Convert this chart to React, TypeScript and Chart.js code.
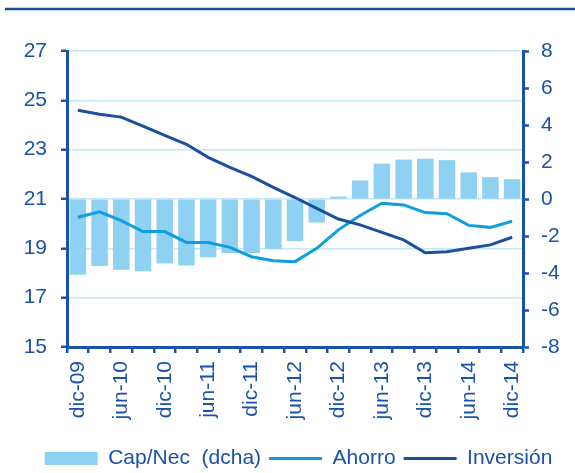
import React, { useEffect, useRef } from "react";
import { Chart, registerables } from "chart.js";

Chart.register(...registerables);

const categories = [
  "dic-09", "mar-10", "jun-10", "sep-10", "dic-10", "mar-11", "jun-11", "sep-11",
  "dic-11", "mar-12", "jun-12", "sep-12", "dic-12", "mar-13", "jun-13", "sep-13",
  "dic-13", "mar-14", "jun-14", "sep-14", "dic-14",
];

const capNec = [
  -4.1, -3.62, -3.82, -3.9, -3.48, -3.59, -3.15, -2.92, -2.92, -2.7, -2.27, -1.27,
  0.13, 1.0, 1.91, 2.13, 2.18, 2.1, 1.44, 1.18, 1.07,
];

const ahorro = [
  20.26, 20.48, 20.12, 19.68, 19.68, 19.24, 19.24, 19.04, 18.66, 18.5, 18.46, 19.0,
  19.75, 20.33, 20.83, 20.76, 20.45, 20.4, 19.93, 19.85, 20.1,
];

const inversion = [
  24.6, 24.44, 24.32, 23.95, 23.58, 23.22, 22.69, 22.28, 21.92, 21.47, 21.06, 20.62,
  20.19, 19.95, 19.65, 19.34, 18.82, 18.86, 19.0, 19.14, 19.45,
];

const leftTicks = [15, 17, 19, 21, 23, 25, 27];
const rightTicks = [-8, -6, -4, -2, 0, 2, 4, 6, 8];

const AXIS = "#1a52a8";
const TEXT = "#1a52a8";
const GRID = "#c4e7f6";
const BAR = "#8ed1f2";
const AHORRO = "#0f9ede";
const INVERSION = "#1c4f9e";
const FONT = "'Liberation Sans', Arial, sans-serif";

const topLine = {
  id: "topLine",
  beforeDraw(chart: any) {
    const ctx = chart.ctx;
    ctx.save();
    ctx.strokeStyle = "#1a4fa0";
    ctx.lineWidth = 2.5;
    ctx.beginPath();
    ctx.moveTo(5, 9);
    ctx.lineTo(chart.width, 9);
    ctx.stroke();
    ctx.restore();
  },
};

const legendShift = {
  id: "legendShift",
  afterLayout(chart: any) {
    const lg = chart.legend;
    if (lg) {
      lg.left += 11;
      lg.right += 11;
      lg.top += 6;
      lg.bottom += 6;
    }
  },
};

export default function App() {
  const ref = useRef<HTMLCanvasElement | null>(null);

  useEffect(() => {
    if (!ref.current) return;
    const chart = new Chart(ref.current, {
      type: "bar",
      data: {
        labels: categories,
        datasets: [
          {
            type: "bar",
            label: "Cap/Nec  (dcha)",
            data: capNec,
            backgroundColor: BAR,
            borderWidth: 0,
            yAxisID: "y1",
            barPercentage: 0.76,
            categoryPercentage: 1,
            order: 3,
          },
          {
            type: "line",
            label: "Ahorro",
            data: ahorro,
            borderColor: AHORRO,
            backgroundColor: AHORRO,
            borderWidth: 3,
            pointRadius: 0,
            tension: 0,
            yAxisID: "y",
            order: 2,
          },
          {
            type: "line",
            label: "Inversión",
            data: inversion,
            borderColor: INVERSION,
            backgroundColor: INVERSION,
            borderWidth: 3,
            pointRadius: 0,
            tension: 0,
            yAxisID: "y",
            order: 1,
          },
        ] as any,
      },
      options: {
        animation: false,
        responsive: false,
        maintainAspectRatio: false,
        layout: { padding: { top: 51, left: 0, right: 0, bottom: 0 } },
        plugins: {
          tooltip: { enabled: false },
          legend: {
            display: true,
            position: "bottom",
            labels: {
              color: TEXT,
              font: { family: FONT, size: 21 },
              usePointStyle: true,
              pointStyleWidth: 53,
              boxHeight: 13,
              padding: 8,
              generateLabels: (c: any) =>
                c.data.datasets.map((ds: any, i: number) => ({
                  text: ds.label,
                  fillStyle: ds.type === "bar" ? BAR : ds.borderColor,
                  strokeStyle: ds.type === "bar" ? BAR : ds.borderColor,
                  lineWidth: ds.type === "bar" ? 0 : 3,
                  pointStyle: ds.type === "bar" ? "rect" : "line",
                  fontColor: TEXT,
                  hidden: false,
                  datasetIndex: i,
                })),
            },
          },
        },
        scales: {
          x: {
            type: "category",
            offset: true,
            afterFit: (s: any) => {
              s.height = 87;
            },
            grid: {
              display: true,
              offset: true,
              drawOnChartArea: false,
              drawTicks: true,
              tickLength: 6,
              color: AXIS,
              lineWidth: 2.5,
            },
            border: { display: true, color: AXIS, width: 3 },
            ticks: {
              autoSkip: false,
              minRotation: 90,
              maxRotation: 90,
              padding: 8,
              color: TEXT,
              font: { family: FONT, size: 21 },
              callback: (_v: any, i: number) => (i % 2 === 0 ? categories[i] : ""),
            },
          },
          y: {
            type: "linear",
            position: "left",
            min: leftTicks[0],
            max: leftTicks[leftTicks.length - 1],
            afterFit: (s: any) => {
              s.width = 67;
            },
            afterBuildTicks: (s: any) => {
              s.ticks = leftTicks.map((v) => ({ value: v }));
            },
            grid: {
              display: true,
              drawOnChartArea: true,
              drawTicks: true,
              tickLength: 6,
              color: GRID,
              lineWidth: 1.5,
              tickColor: AXIS,
              tickWidth: 2.5,
            },
            border: { display: true, color: AXIS, width: 3 },
            ticks: {
              padding: 14,
              color: TEXT,
              font: { family: FONT, size: 21 },
            },
          },
          y1: {
            type: "linear",
            position: "right",
            min: rightTicks[0],
            max: rightTicks[rightTicks.length - 1],
            afterFit: (s: any) => {
              s.width = 52;
            },
            afterBuildTicks: (s: any) => {
              s.ticks = rightTicks.map((v) => ({ value: v }));
            },
            grid: {
              display: true,
              drawOnChartArea: false,
              drawTicks: true,
              tickLength: 6,
              color: AXIS,
              tickColor: AXIS,
              tickWidth: 2.5,
            },
            border: { display: true, color: AXIS, width: 3 },
            ticks: {
              padding: 12,
              color: TEXT,
              font: { family: FONT, size: 21 },
            },
          },
        },
      } as any,
      plugins: [topLine, legendShift],
    });
    return () => chart.destroy();
  }, []);

  return (
    <div style={{ position: "absolute", left: 0, top: 0, width: 575, height: 473, background: "#fff" }}>
      <canvas ref={ref} width={575} height={473} style={{ width: 575, height: 473, display: "block" }} />
    </div>
  );
}
